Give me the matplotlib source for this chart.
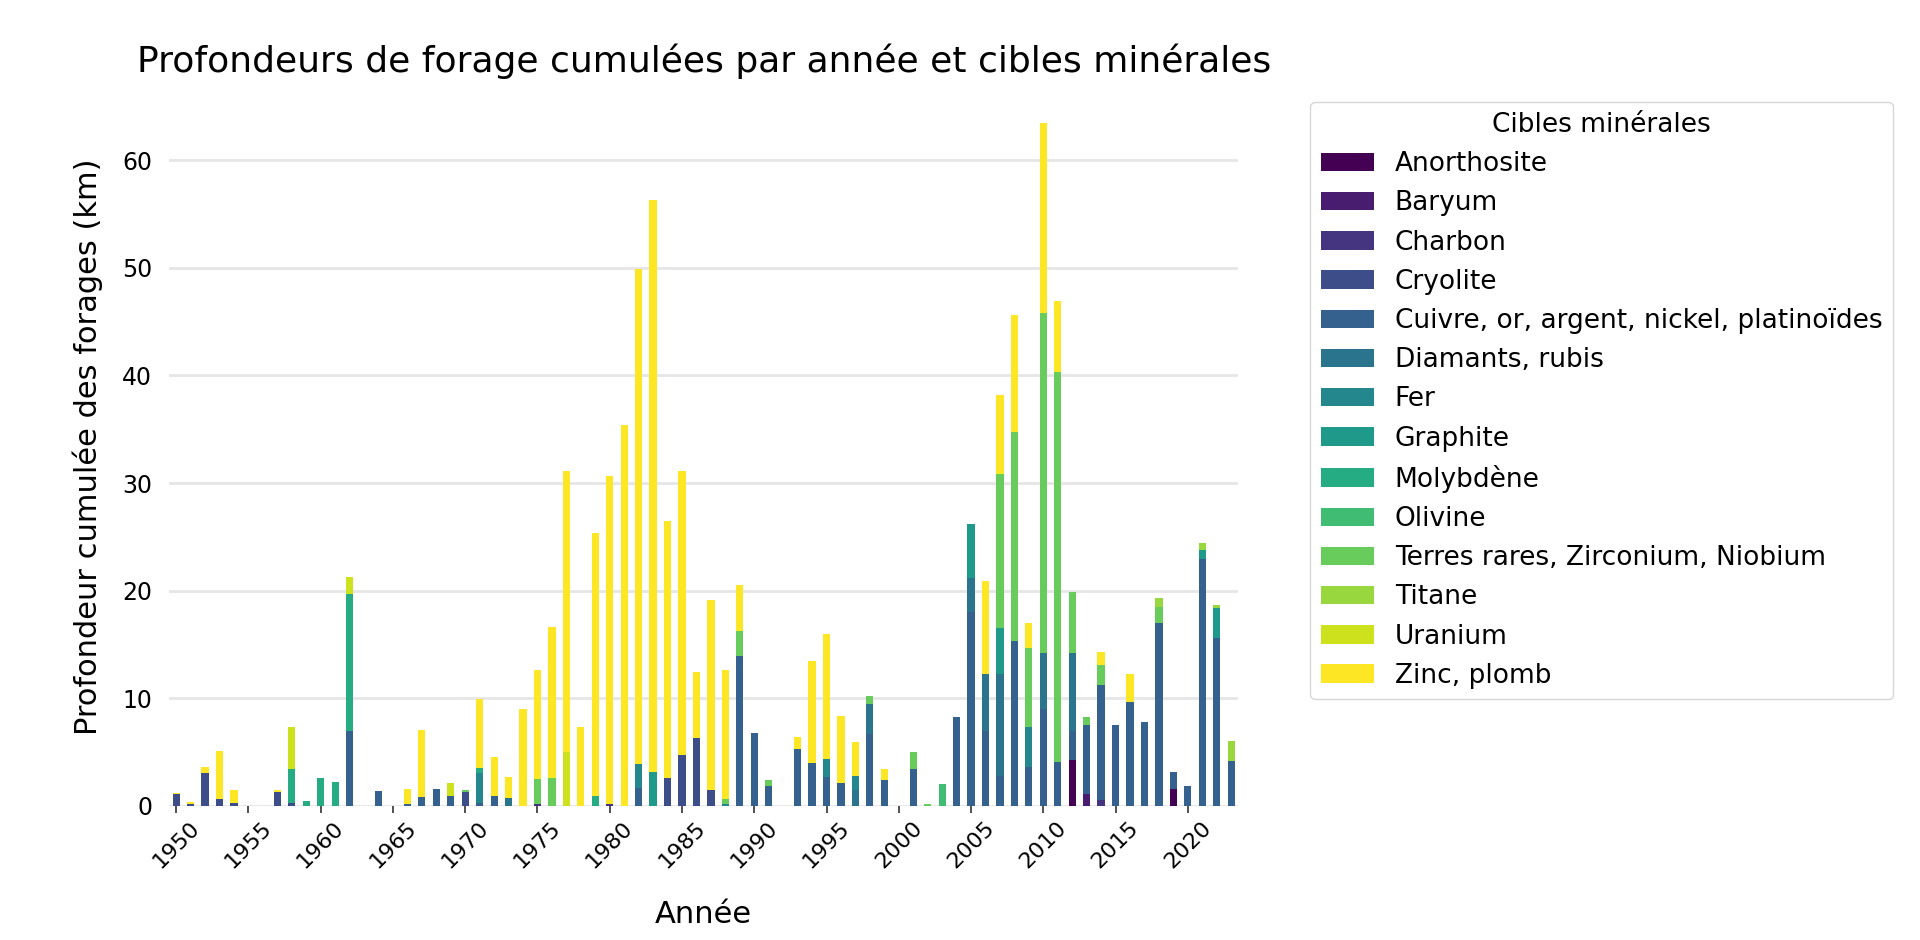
import pandas as pd
import matplotlib
matplotlib.use("Agg")
import matplotlib.pyplot as plt

years = list(range(1950, 2024))

# km forés par année, par cible (années absentes = 0)
anorthosite = {2012: 4.3, 2019: 1.6}
baryum = {2013: 1.1}
charbon = {1975: 0.15, 1980: 0.2, 2014: 0.55}
cryolite = {1950: 1.1, 1951: 0.2, 1952: 3.1, 1953: 0.6, 1954: 0.3, 1957: 1.3,
            1958: 0.3, 1970: 1.3, 1984: 2.6, 1985: 4.7, 1986: 6.3, 1987: 1.45}
cuivre = {1962: 7.0, 1964: 1.4, 1966: 0.2, 1967: 0.8, 1968: 1.6, 1969: 0.95,
          1971: 0.3, 1972: 0.95, 1982: 1.7, 1989: 13.9, 1990: 6.8, 1991: 1.85,
          1993: 5.25, 1994: 4.0, 1995: 2.7, 1996: 2.1, 1998: 6.65, 1999: 2.45,
          2001: 3.4, 2004: 8.3, 2005: 18.0, 2006: 7.0, 2007: 2.8, 2008: 15.3,
          2009: 3.6, 2010: 9.0, 2011: 4.1, 2012: 2.7, 2013: 6.4, 2014: 10.65,
          2015: 7.5, 2016: 9.7, 2017: 7.8, 2018: 17.0, 2019: 1.6, 2020: 1.9,
          2021: 22.9, 2022: 15.6, 2023: 4.15}
diamants = {1973: 0.7, 1997: 1.5, 1998: 2.8, 2005: 3.2, 2006: 5.3, 2007: 9.5,
            2010: 5.2, 2012: 7.2}
fer = {1971: 2.8, 1982: 2.2, 1988: 0.2, 1995: 1.7, 1997: 1.3, 2009: 3.7}
graphite = {1983: 3.2, 2005: 5.0, 2007: 4.2, 2021: 0.9, 2022: 2.8}
molybdene = {1958: 3.1, 1959: 0.5, 1960: 2.6, 1961: 2.2, 1962: 12.7, 1971: 0.4,
             1979: 0.95}
olivine = {2003: 2.0}
terres_rares = {1970: 0.2, 1975: 2.4, 1976: 2.6, 1988: 0.4, 1989: 2.4, 1991: 0.6,
                1998: 0.75, 2001: 1.6, 2002: 0.2, 2007: 14.3, 2008: 19.4,
                2009: 7.4, 2010: 31.6, 2011: 36.2, 2012: 5.65, 2013: 0.8,
                2014: 1.9, 2018: 1.45}
titane = {2018: 0.85, 2021: 0.6, 2022: 0.3, 2023: 1.9}
uranium = {1958: 3.9, 1962: 1.6, 1969: 1.2, 1977: 5.0}
zinc = {1950: 0.15, 1951: 0.2, 1952: 0.5, 1953: 4.5, 1954: 1.2, 1957: 0.2,
        1966: 1.35, 1967: 6.3, 1971: 6.4, 1972: 3.6, 1973: 2.0, 1974: 9.0,
        1975: 10.1, 1976: 14.0, 1977: 26.1, 1978: 7.3, 1979: 24.45, 1980: 30.5,
        1981: 35.4, 1982: 46.0, 1983: 53.1, 1984: 23.9, 1985: 26.4, 1986: 6.1,
        1987: 17.65, 1988: 12.0, 1989: 4.2, 1993: 1.2, 1994: 9.5, 1995: 11.6,
        1996: 6.3, 1997: 3.1, 1999: 1.0, 2006: 8.6, 2007: 7.4, 2008: 10.9,
        2009: 2.3, 2010: 17.7, 2011: 6.65, 2014: 1.25, 2016: 2.6}

cibles = {
    "Anorthosite": anorthosite,
    "Baryum": baryum,
    "Charbon": charbon,
    "Cryolite": cryolite,
    "Cuivre, or, argent, nickel, platinoïdes": cuivre,
    "Diamants, rubis": diamants,
    "Fer": fer,
    "Graphite": graphite,
    "Molybdène": molybdene,
    "Olivine": olivine,
    "Terres rares, Zirconium, Niobium": terres_rares,
    "Titane": titane,
    "Uranium": uranium,
    "Zinc, plomb": zinc,
}

df = pd.DataFrame({nom: pd.Series(v) for nom, v in cibles.items()})
df = df.reindex(years).fillna(0)

fig = plt.figure(figsize=(19.2, 9.4), dpi=100)
ax = fig.add_axes([0.088, 0.1426, 0.557, 0.7634])

df.plot(kind="bar", stacked=True, colormap="viridis", ax=ax, width=0.5,
        legend=False)

for s in ax.spines.values():
    s.set_visible(False)
ax.set_axisbelow(True)
ax.yaxis.grid(True, color="#e6e6e6", linewidth=2)
ax.xaxis.grid(False)

pos = list(range(0, len(years), 5))
ax.set_xticks(pos)
ax.set_xticklabels([str(years[i]) for i in pos], rotation=45, ha="center",
                   fontsize=16)
ax.tick_params(axis="x", length=5, width=1.2, color="#333333")
ax.tick_params(axis="y", length=0, labelsize=17, pad=12)
ax.set_xlim(-0.5, len(years) - 0.5)

ax.set_title("Profondeurs de forage cumulées par année et cibles minérales",
             fontsize=26, pad=12)
ax.set_xlabel("Année", fontsize=22, labelpad=20)
ax.set_ylabel("Profondeur cumulée des forages (km)", fontsize=22, labelpad=14)

ax.legend(title="Cibles minérales", bbox_to_anchor=(1.055, 1), loc="upper left",
          fontsize=19, title_fontsize=19, labelspacing=0.5)

fig.savefig("out.png", dpi=100)
